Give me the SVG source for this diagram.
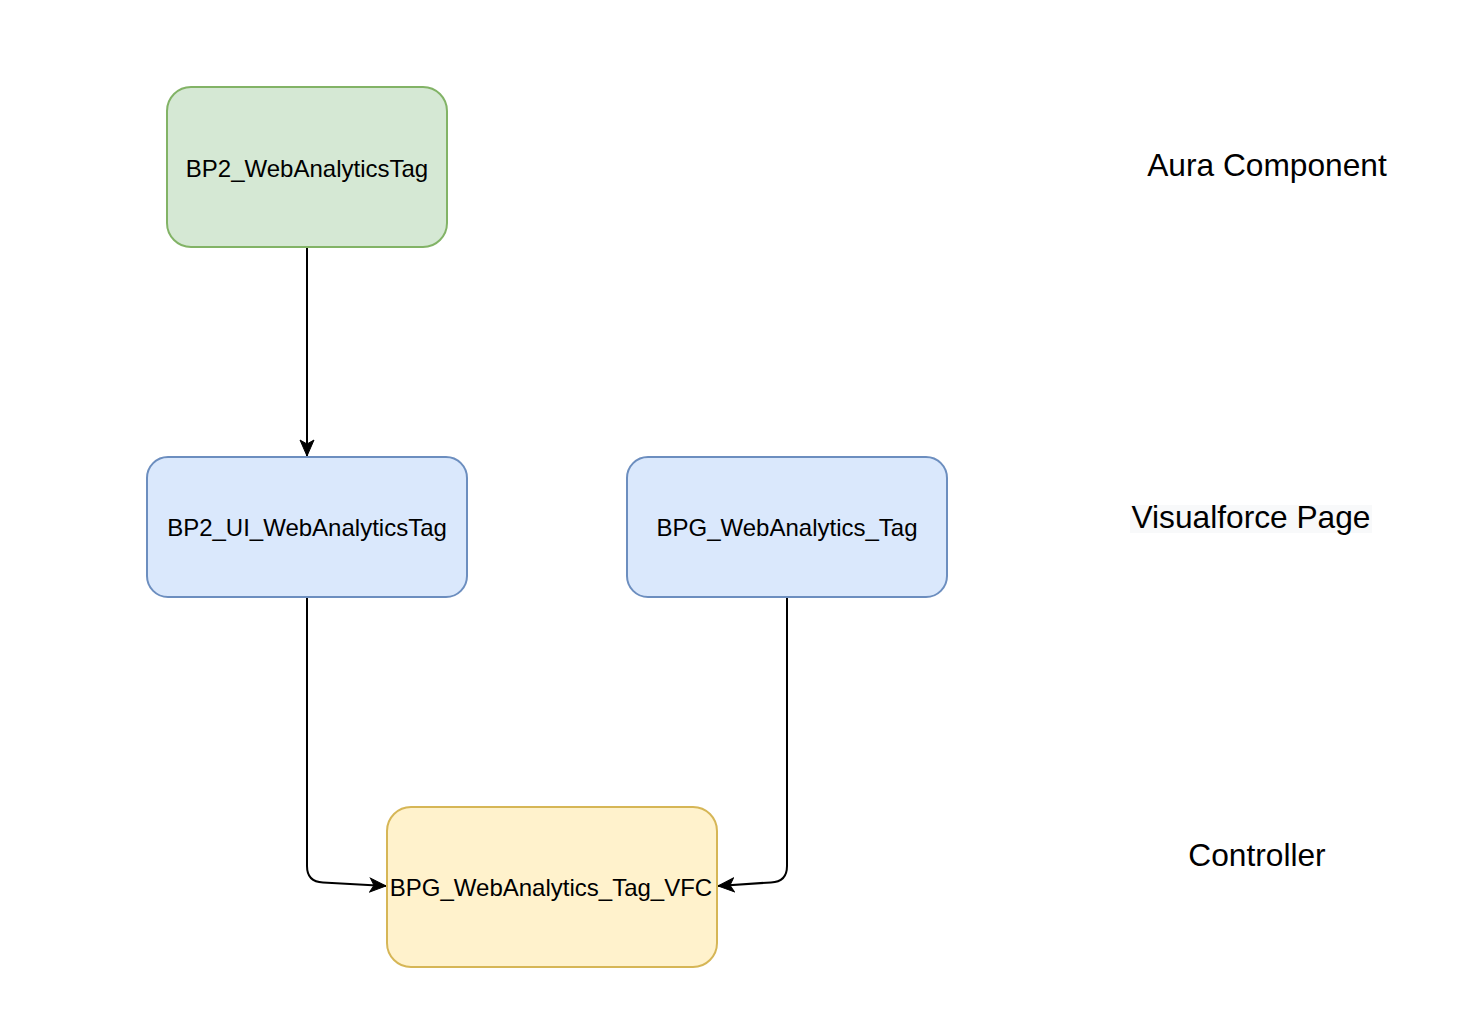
<svg xmlns="http://www.w3.org/2000/svg" width="1478" height="1032" viewBox="0 0 1478 1032">
<style>
.node rect{stroke-width:2}
.ntext{font-family:"Liberation Sans",Arial,Helvetica,sans-serif;font-size:24px;fill:#000;text-anchor:middle}
.label{font-family:"Liberation Sans",Arial,Helvetica,sans-serif;font-size:31.7px;fill:#000;text-anchor:middle}
.edge{fill:none;stroke:#000;stroke-width:2;marker-end:url(#arrow)}
</style>
<defs>
<marker id="arrow" markerUnits="userSpaceOnUse" markerWidth="20" markerHeight="20" refX="17" refY="8" orient="auto">
<path d="M1,1 L17,8 L1,15 L5,8 Z" fill="#000" stroke="#000" stroke-width="1"/>
</marker>
</defs>
<rect width="1478" height="1032" fill="#fff"/>
<g id="connectors">
<path class="edge" d="M307,248 L307,456"/>
<path class="edge" d="M307,598 L307,866 Q307,882 323,882.4 L386,886"/>
<path class="edge" d="M787,598 L787,866 Q787,882 771,882.4 L718,886"/>
</g>
<g id="aura-component" class="node">
<rect x="167" y="87" width="280" height="160" rx="24" fill="#d5e8d4" stroke="#82b366"/>
<text class="ntext" x="307" y="176.5">BP2_WebAnalyticsTag</text>
</g>
<g id="bp2-ui-webanalyticstag" class="node">
<rect x="147" y="457" width="320" height="140" rx="21" fill="#dae8fc" stroke="#6c8ebf"/>
<text class="ntext" x="307" y="536">BP2_UI_WebAnalyticsTag</text>
</g>
<g id="bpg-webanalytics-tag" class="node">
<rect x="627" y="457" width="320" height="140" rx="21" fill="#dae8fc" stroke="#6c8ebf"/>
<text class="ntext" x="787" y="536">BPG_WebAnalytics_Tag</text>
</g>
<g id="bpg-webanalytics-tag-vfc" class="node">
<rect x="387" y="807" width="330" height="160" rx="24" fill="#fff2cc" stroke="#d6b656"/>
<text class="ntext" x="551" y="895.5">BPG_WebAnalytics_Tag_VFC</text>
</g>
<g id="label-aura">
<text class="label" x="1267" y="176">Aura Component</text>
</g>
<g id="label-visualforce">
<rect x="1130" y="505" width="242" height="28" fill="#f8f9fa"/>
<text class="label" x="1251" y="528">Visualforce Page</text>
</g>
<g id="label-controller">
<text class="label" x="1257" y="866">Controller</text>
</g>
</svg>
